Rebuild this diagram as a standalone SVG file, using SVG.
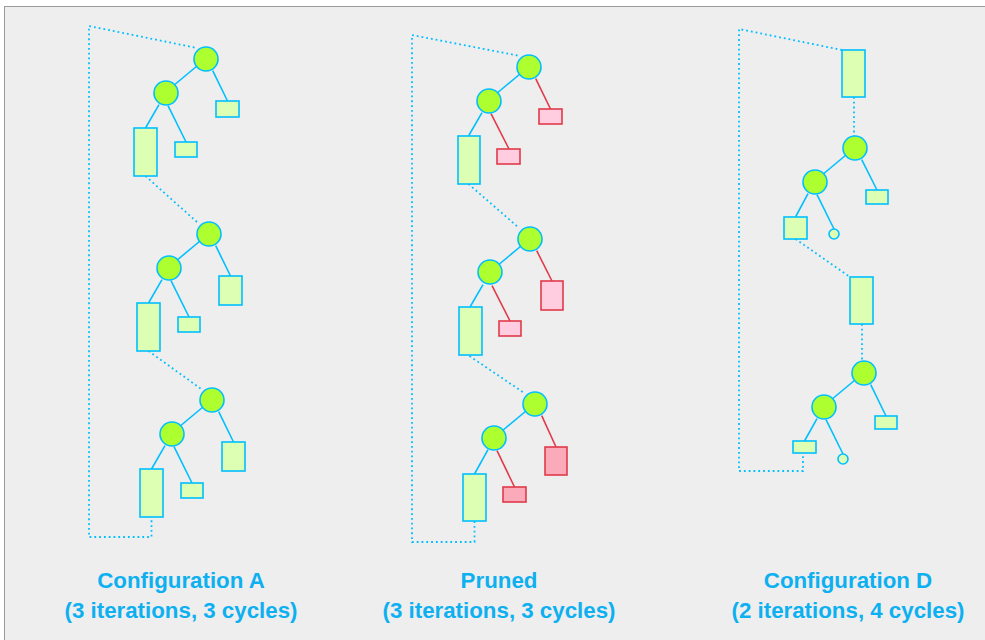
<svg xmlns="http://www.w3.org/2000/svg" width="985" height="640" viewBox="0 0 985 640">
  <defs>
    <style>
      .panel { fill: #eeeeee; stroke: #9a9a9a; stroke-width: 1; }
      .n { fill: #adff2f; stroke: #00bfff; stroke-width: 1.6; }
      .leaf { fill: #ddffb4; stroke: #00bfff; stroke-width: 1.6; }
      .cut { fill: #ffcce0; stroke: #e03a4a; stroke-width: 1.6; }
      .cut2 { fill: #fbaab9; stroke: #e03a4a; stroke-width: 1.6; }
      .e { stroke: #00bfff; stroke-width: 1.6; fill: none; }
      .er { stroke: #e03a4a; stroke-width: 1.6; fill: none; }
      .dot { stroke: #00bfff; stroke-width: 1.8; fill: none; stroke-dasharray: 1.8 3; }
      .lbl { font-family: "Liberation Sans", Arial, sans-serif; font-weight: bold; font-size: 22.3px; fill: #0db0f0; text-anchor: middle; }
    </style>
  </defs>

  <rect x="0" y="0" width="985" height="640" fill="#ffffff"/>
  <rect class="panel" x="4.5" y="6.5" width="1000" height="700"/>

  <!-- dotted links between iterations -->
  <g id="connectors">
    <path class="dot" d="M194.5 47.5 L89 26 L89 537 L151.5 537 L151.5 517"/>
    <path class="dot" d="M145.5 176 L197.5 222.5"/>
    <path class="dot" d="M148.5 351 L200.5 388.5"/>

    <path class="dot" d="M517.5 55.5 L412 35 L412 542 L474.5 542 L474.5 521"/>
    <path class="dot" d="M468.5 184 L518.5 227.5"/>
    <path class="dot" d="M469.5 356 L523.5 392.5"/>

    <path class="dot" d="M842 50 L739 29 L739 471 L803 471 L803 453"/>
    <path class="dot" d="M854 97 L854 137"/>
    <path class="dot" d="M795.5 239 L850 277"/>
    <path class="dot" d="M862 324 L862 362"/>
  </g>

  <!-- Configuration A -->
  <g id="a1" transform="translate(206,59)">
    <line class="e" x1="-9" y1="7" x2="-33" y2="27"/>
    <line class="e" x1="6.7" y1="11.7" x2="21.5" y2="42"/>
    <line class="e" x1="-47" y1="45.7" x2="-60.5" y2="69"/>
    <line class="e" x1="-38" y1="46.7" x2="-20" y2="83"/>
    <rect class="leaf" x="10" y="42" width="23" height="16"/>
    <rect class="leaf" x="-72" y="69" width="23" height="48"/>
    <rect class="leaf" x="-31" y="83" width="22" height="15"/>
    <circle class="n" cx="0" cy="0" r="12"/>
    <circle class="n" cx="-40" cy="34" r="12"/>
  </g>
  <g id="a2" transform="translate(209,234)">
    <line class="e" x1="-9" y1="7" x2="-33" y2="27"/>
    <line class="e" x1="6.7" y1="11.7" x2="21.5" y2="42"/>
    <line class="e" x1="-47" y1="45.7" x2="-60.5" y2="69"/>
    <line class="e" x1="-38" y1="46.7" x2="-20" y2="83"/>
    <rect class="leaf" x="10" y="42" width="23" height="29"/>
    <rect class="leaf" x="-72" y="69" width="23" height="48"/>
    <rect class="leaf" x="-31" y="83" width="22" height="15"/>
    <circle class="n" cx="0" cy="0" r="12"/>
    <circle class="n" cx="-40" cy="34" r="12"/>
  </g>
  <g id="a3" transform="translate(212,400)">
    <line class="e" x1="-9" y1="7" x2="-33" y2="27"/>
    <line class="e" x1="6.7" y1="11.7" x2="21.5" y2="42"/>
    <line class="e" x1="-47" y1="45.7" x2="-60.5" y2="69"/>
    <line class="e" x1="-38" y1="46.7" x2="-20" y2="83"/>
    <rect class="leaf" x="10" y="42" width="23" height="29"/>
    <rect class="leaf" x="-72" y="69" width="23" height="48"/>
    <rect class="leaf" x="-31" y="83" width="22" height="15"/>
    <circle class="n" cx="0" cy="0" r="12"/>
    <circle class="n" cx="-40" cy="34" r="12"/>
  </g>

  <!-- Pruned -->
  <g id="p1" transform="translate(529,67)">
    <line class="e" x1="-9" y1="7" x2="-33" y2="27"/>
    <line class="er" x1="6.7" y1="11.7" x2="21.5" y2="42"/>
    <line class="e" x1="-47" y1="45.7" x2="-60.5" y2="69"/>
    <line class="er" x1="-38" y1="46.7" x2="-20" y2="82"/>
    <rect class="cut" x="10" y="42" width="23" height="15"/>
    <rect class="leaf" x="-71" y="69" width="22" height="48"/>
    <rect class="cut" x="-32" y="82" width="23" height="15"/>
    <circle class="n" cx="0" cy="0" r="12"/>
    <circle class="n" cx="-40" cy="34" r="12"/>
  </g>
  <g id="p2" transform="translate(530,239)">
    <line class="e" x1="-9" y1="7" x2="-33" y2="27"/>
    <line class="er" x1="6.7" y1="11.7" x2="22" y2="42"/>
    <line class="e" x1="-47" y1="45.7" x2="-60" y2="68"/>
    <line class="er" x1="-38" y1="46.7" x2="-20" y2="82"/>
    <rect class="cut" x="11" y="42" width="22" height="29"/>
    <rect class="leaf" x="-71" y="68" width="23" height="48"/>
    <rect class="cut" x="-31" y="82" width="22" height="15"/>
    <circle class="n" cx="0" cy="0" r="12"/>
    <circle class="n" cx="-40" cy="33" r="12"/>
  </g>
  <g id="p3" transform="translate(535,404)">
    <line class="e" x1="-9" y1="7" x2="-33" y2="27"/>
    <line class="er" x1="6.7" y1="11.7" x2="21" y2="43"/>
    <line class="e" x1="-47" y1="45.7" x2="-60.5" y2="70"/>
    <line class="er" x1="-38" y1="46.7" x2="-20.5" y2="83"/>
    <rect class="cut2" x="10" y="43" width="22" height="28"/>
    <rect class="leaf" x="-72" y="70" width="23" height="47"/>
    <rect class="cut2" x="-32" y="83" width="23" height="15"/>
    <circle class="n" cx="0" cy="0" r="12"/>
    <circle class="n" cx="-41" cy="34" r="12"/>
  </g>

  <!-- Configuration D -->
  <g id="d1" transform="translate(855,148)">
    <rect class="leaf" x="-13" y="-98" width="23" height="47"/>
    <line class="e" x1="-9" y1="7" x2="-33" y2="27"/>
    <line class="e" x1="6.7" y1="11.7" x2="22" y2="42"/>
    <line class="e" x1="-47" y1="45.7" x2="-59.5" y2="69"/>
    <line class="e" x1="-38" y1="46.7" x2="-21" y2="81"/>
    <rect class="leaf" x="11" y="42" width="22" height="14"/>
    <rect class="leaf" x="-71" y="69" width="23" height="22"/>
    <circle class="leaf" cx="-21" cy="86" r="5"/>
    <circle class="n" cx="0" cy="0" r="12"/>
    <circle class="n" cx="-40" cy="34" r="12"/>
  </g>
  <g id="d2" transform="translate(864,373)">
    <rect class="leaf" x="-14" y="-96" width="23" height="47"/>
    <line class="e" x1="-9" y1="7" x2="-33" y2="27"/>
    <line class="e" x1="6.7" y1="11.7" x2="22" y2="43"/>
    <line class="e" x1="-47" y1="45.7" x2="-59.5" y2="68"/>
    <line class="e" x1="-38" y1="46.7" x2="-21" y2="81"/>
    <rect class="leaf" x="11" y="43" width="22" height="13"/>
    <rect class="leaf" x="-71" y="68" width="23" height="12"/>
    <circle class="leaf" cx="-21" cy="86" r="5"/>
    <circle class="n" cx="0" cy="0" r="12"/>
    <circle class="n" cx="-40" cy="34" r="12"/>
  </g>

  <!-- captions -->
  <g id="captions">
    <text class="lbl" x="181" y="588">Configuration A</text>
    <text class="lbl" x="181" y="618">(3 iterations, 3 cycles)</text>
    <text class="lbl" x="499" y="588">Pruned</text>
    <text class="lbl" x="499" y="618">(3 iterations, 3 cycles)</text>
    <text class="lbl" x="848" y="588">Configuration D</text>
    <text class="lbl" x="848" y="618">(2 iterations, 4 cycles)</text>
  </g>
</svg>
